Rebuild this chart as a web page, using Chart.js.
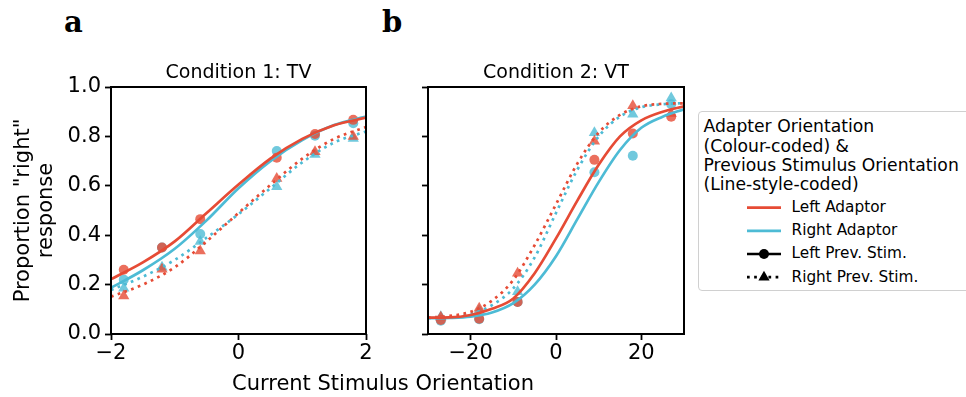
<!DOCTYPE html>
<html>
<head>
<meta charset="utf-8">
<script src="https://cdn.jsdelivr.net/npm/chart.js@4.4.1/dist/chart.umd.min.js"></script>
<style>
  body { margin: 0; background: #fff; width: 966px; height: 397px; position: relative; overflow: hidden; font-family: "DejaVu Sans", sans-serif; color: #000; }
  canvas { position: absolute; top: 0; }
  .letter { position: absolute; font-family: "DejaVu Serif", serif; font-weight: bold; font-size: 29px; line-height: 29px; }
  .ptitle { position: absolute; top: 60.4px; width: 300px; text-align: center; font-size: 19px; line-height: 22.8px; white-space: nowrap; }
  #xlabel { position: absolute; left: 183px; width: 400px; top: 371px; text-align: center; font-size: 21px; line-height: 24px; }
  #legend { position: absolute; left: 698px; top: 111px; width: 300px; height: 178px; border: 1px solid #d0d0d0; border-radius: 4px; background: #fff; }
  #legend .t { position: absolute; left: 4.5px; font-size: 17.2px; line-height: 19.2px; white-space: nowrap; }
  #legend .e { position: absolute; left: 92.5px; font-size: 15.3px; line-height: 23.2px; white-space: nowrap; }
  #legend svg { position: absolute; left: 48px; top: 84px; }
</style>
</head>
<body>
<div class="letter" style="left:64px; top:8px;">a</div>
<div class="letter" style="left:382px; top:8px;">b</div>
<canvas id="chartA" width="380" height="397" style="left:0px"></canvas>
<canvas id="chartB" width="320" height="397" style="left:380px"></canvas>
<div class="ptitle" style="left:88.5px">Condition 1: TV</div>
<div class="ptitle" style="left:406px">Condition 2: VT</div>
<div id="xlabel">Current Stimulus Orientation</div>
<div id="legend">
  <div class="t" style="top:5.4px">Adapter Orientation</div>
  <div class="t" style="top:24.6px">(Colour-coded) &amp;</div>
  <div class="t" style="top:43.8px">Previous Stimulus Orientation</div>
  <div class="t" style="top:63px">(Line-style-coded)</div>
  <div class="e" style="top:84px">Left Adaptor</div>
  <div class="e" style="top:107.2px">Right Adaptor</div>
  <div class="e" style="top:130.4px">Left Prev. Stim.</div>
  <div class="e" style="top:153.6px">Right Prev. Stim.</div>
  <svg width="36" height="93">
    <line x1="0" y1="11.6" x2="34" y2="11.6" stroke="#E64B35" stroke-width="2.7"/>
    <line x1="0" y1="34.8" x2="34" y2="34.8" stroke="#4DBBD5" stroke-width="2.7"/>
    <line x1="0" y1="58" x2="34" y2="58" stroke="#000" stroke-width="2.7"/>
    <circle cx="17" cy="58" r="5" fill="#000"/>
    <line x1="0" y1="81.2" x2="34" y2="81.2" stroke="#000" stroke-width="2.7" stroke-dasharray="2.7 4.45"/>
    <polygon points="17,74.7 22.6,84.4 11.4,84.4" fill="#000"/>
  </svg>
</div>
<script>
const RED = '#E64B35';
const BLUE = '#4DBBD5';
const RED_PT = 'rgba(230,75,53,0.8)';
const BLUE_PT = 'rgba(77,187,213,0.8)';

// panel a: Condition 1: TV
const xPtsA = [-1.8, -1.2, -0.6, 0.6, 1.2, 1.8];
const lAdaptLPrevA = [0.26, 0.35, 0.465, 0.714, 0.81, 0.867];
const rAdaptLPrevA = [0.22, 0.35, 0.405, 0.741, 0.803, 0.853];
const lAdaptRPrevA = [0.154, 0.262, 0.336, 0.63, 0.738, 0.80];
const rAdaptRPrevA = [0.185, 0.27, 0.374, 0.596, 0.727, 0.792];

const xFitA = [-2, -1.5, -1, -0.5, 0, 0.5, 1, 1.5, 2];
const fitLAdaptLPrevA = [0.222, 0.29, 0.375, 0.49, 0.605, 0.71, 0.79, 0.845, 0.876];
const fitRAdaptLPrevA = [0.187, 0.258, 0.345, 0.46, 0.59, 0.70, 0.785, 0.846, 0.88];
const fitLAdaptRPrevA = [0.151, 0.20, 0.27, 0.375, 0.49, 0.603, 0.71, 0.79, 0.838];
const fitRAdaptRPrevA = [0.178, 0.232, 0.30, 0.39, 0.485, 0.59, 0.695, 0.775, 0.82];

// panel b: Condition 2: VT
const xPtsB = [-27, -18, -9, 9, 18, 27];
const lAdaptLPrevB = [0.057, 0.062, 0.13, 0.705, 0.812, 0.88];
const rAdaptLPrevB = [0.054, 0.06, 0.13, 0.655, 0.722, 0.93];
const lAdaptRPrevB = [0.068, 0.104, 0.246, 0.78, 0.924, 0.893];
const rAdaptRPrevB = [0.07, 0.095, 0.171, 0.815, 0.89, 0.955];

const xFitB = [-30, -25, -20, -15, -10, -5, 0, 5, 10, 15, 20, 25, 30];
const fitLAdaptLPrevB = [0.066, 0.067, 0.077, 0.102, 0.144, 0.246, 0.387, 0.54, 0.685, 0.80, 0.865, 0.90, 0.922];
const fitRAdaptLPrevB = [0.064, 0.065, 0.07, 0.087, 0.125, 0.20, 0.315, 0.465, 0.615, 0.745, 0.835, 0.88, 0.91];
const fitLAdaptRPrevB = [0.066, 0.073, 0.09, 0.135, 0.219, 0.36, 0.525, 0.69, 0.815, 0.887, 0.922, 0.932, 0.934];
const fitRAdaptRPrevB = [0.064, 0.068, 0.081, 0.117, 0.185, 0.31, 0.49, 0.665, 0.80, 0.88, 0.918, 0.93, 0.935];

const xTicksA = [-2, 0, 2];
const xTicksB = [-20, 0, 20];
const yTicks = [0, 0.2, 0.4, 0.6, 0.8, 1.0];

const zip = (xs, ys) => xs.map((x, i) => ({ x: x, y: ys[i] }));

function fitLine(label, xs, ys, color, dotted) {
  return {
    label, data: zip(xs, ys), showLine: true, borderColor: color, borderWidth: 2.7,
    borderDash: dotted ? [2.7, 4.45] : [], borderCapStyle: 'butt',
    cubicInterpolationMode: 'monotone', pointRadius: 0, fill: false, order: 0
  };
}

function markers(label, xs, ys, color, style) {
  return {
    label, data: zip(xs, ys), backgroundColor: color, pointStyle: style,
    pointRadius: style === 'triangle' ? 6.5 : 5, pointBorderWidth: 0, showLine: false, order: 1
  };
}

const frame = {
  id: 'frame',
  afterDraw(chart) {
    const { ctx, chartArea: a } = chart;
    ctx.save();
    ctx.strokeStyle = '#000';
    ctx.lineWidth = 2;
    ctx.strokeRect(a.left, a.top, a.right - a.left, a.bottom - a.top);
    ctx.restore();
  }
};

const minus = v => String(v).replace('-', '\u2212');

function makeChart(id, xMin, xMax, xTicks, yWidth, padRight, showY, sets) {
  const tickFont = { family: 'DejaVu Sans', size: 21 };
  return new Chart(document.getElementById(id), {
    type: 'scatter',
    data: { datasets: sets },
    plugins: [frame],
    options: {
      responsive: false,
      animation: false,
      devicePixelRatio: 1,
      layout: { padding: { left: 0, right: padRight, top: 87, bottom: 0 } },
      plugins: {
        legend: { display: false },
        tooltip: { enabled: false },
        title: { display: false }
      },
      scales: {
        x: {
          type: 'linear', min: xMin, max: xMax,
          afterBuildTicks: s => { s.ticks = xTicks.map(v => ({ value: v })); },
          afterFit: s => { s.height = 63; },
          border: { display: false },
          grid: { drawOnChartArea: false, drawTicks: true, tickLength: 6, tickWidth: 1.8, color: '#000', tickColor: '#000' },
          ticks: { color: '#000', font: tickFont, padding: 1, maxRotation: 0, autoSkip: false, callback: v => minus(v) }
        },
        y: {
          type: 'linear', min: 0, max: 1,
          afterBuildTicks: s => { s.ticks = yTicks.map(v => ({ value: v })); },
          afterFit: s => { s.width = yWidth; },
          border: { display: false },
          grid: { drawOnChartArea: false, drawTicks: true, tickLength: 6, tickWidth: 1.8, color: '#000', tickColor: '#000' },
          ticks: { display: showY, color: '#000', font: tickFont, padding: 4, autoSkip: false, callback: v => v.toFixed(1) },
          title: {
            display: showY, text: ['Proportion "right"', 'response'], color: '#000',
            font: { family: 'DejaVu Sans', size: 21, lineHeight: 1.1 },
            padding: { top: 12, bottom: 0 }
          }
        }
      }
    }
  });
}

makeChart('chartA', -2, 2, xTicksA, 111, 14, true, [
  fitLine('Left Adaptor, Left Prev. Stim.', xFitA, fitLAdaptLPrevA, RED, false),
  fitLine('Right Adaptor, Left Prev. Stim.', xFitA, fitRAdaptLPrevA, BLUE, false),
  fitLine('Left Adaptor, Right Prev. Stim.', xFitA, fitLAdaptRPrevA, RED, true),
  fitLine('Right Adaptor, Right Prev. Stim.', xFitA, fitRAdaptRPrevA, BLUE, true),
  markers('Left Adaptor, Left Prev. Stim. data', xPtsA, lAdaptLPrevA, RED_PT, 'circle'),
  markers('Right Adaptor, Left Prev. Stim. data', xPtsA, rAdaptLPrevA, BLUE_PT, 'circle'),
  markers('Left Adaptor, Right Prev. Stim. data', xPtsA, lAdaptRPrevA, RED_PT, 'triangle'),
  markers('Right Adaptor, Right Prev. Stim. data', xPtsA, rAdaptRPrevA, BLUE_PT, 'triangle')
]);

makeChart('chartB', -30, 30, xTicksB, 48, 16, false, [
  fitLine('Left Adaptor, Left Prev. Stim.', xFitB, fitLAdaptLPrevB, RED, false),
  fitLine('Right Adaptor, Left Prev. Stim.', xFitB, fitRAdaptLPrevB, BLUE, false),
  fitLine('Left Adaptor, Right Prev. Stim.', xFitB, fitLAdaptRPrevB, RED, true),
  fitLine('Right Adaptor, Right Prev. Stim.', xFitB, fitRAdaptRPrevB, BLUE, true),
  markers('Left Adaptor, Left Prev. Stim. data', xPtsB, lAdaptLPrevB, RED_PT, 'circle'),
  markers('Right Adaptor, Left Prev. Stim. data', xPtsB, rAdaptLPrevB, BLUE_PT, 'circle'),
  markers('Left Adaptor, Right Prev. Stim. data', xPtsB, lAdaptRPrevB, RED_PT, 'triangle'),
  markers('Right Adaptor, Right Prev. Stim. data', xPtsB, rAdaptRPrevB, BLUE_PT, 'triangle')
]);
</script>
</body>
</html>
